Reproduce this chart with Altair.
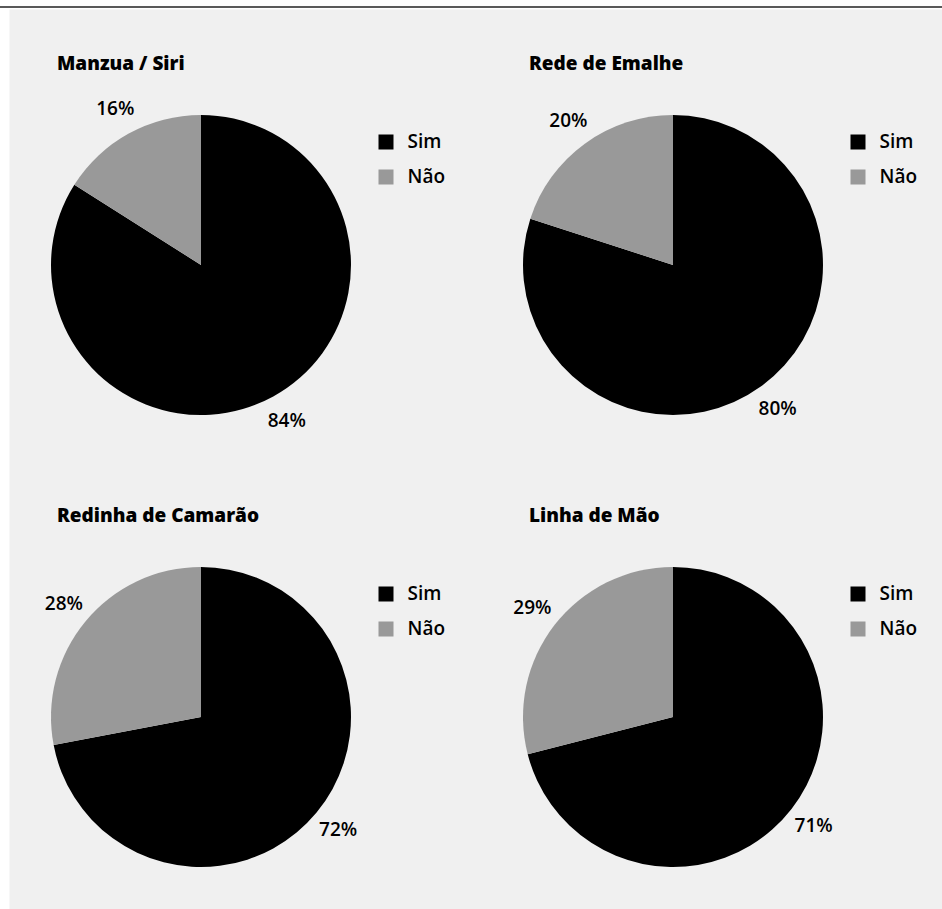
import altair as alt
import pandas as pd

titles = ["Manzua / Siri", "Rede de Emalhe", "Redinha de Camarão", "Linha de Mão"]
sim_pct = [84, 80, 72, 71]
nao_pct = [16, 20, 28, 29]
categories = ["Sim", "Não"]
colors = ["#000000", "#999999"]

rows = []
for i, t in enumerate(titles):
    for j, (c, v) in enumerate(zip(categories, [sim_pct[i], nao_pct[i]])):
        rows.append(dict(pie=i, title=t, cat=c, ord=j, value=v, label=f"{v}%"))
df = pd.DataFrame(rows)
title_df = pd.DataFrame({"pie": list(range(len(titles))), "title": titles})

# layout: pie centres inside the gray panel
centers = [(192, 256), (664, 256), (192, 708), (664, 708)]
FONT = "Open Sans"

layers = []
line = alt.Chart(pd.DataFrame({"a": [0]})).mark_rule(color="#222222", strokeWidth=1.5).encode(
    x=alt.value(-9), x2=alt.value(933), y=alt.value(-2)
)
layers.append(line)

for i, (cx, cy) in enumerate(centers):
    base = alt.Chart(df).transform_filter(alt.datum.pie == i).encode(
        theta=alt.Theta("value:Q", stack=True, scale=alt.Scale(domain=[0, 100])),
        order=alt.Order("ord:Q"),
        x=alt.value(cx),
        y=alt.value(cy),
    )
    arc = base.mark_arc(outerRadius=150).encode(
        color=alt.Color(
            "cat:N",
            scale=alt.Scale(domain=categories, range=colors),
            legend=alt.Legend(
                orient="none",
                legendX=cx + 175.5,
                legendY=cy - 132.5,
                title=None,
                symbolType="square",
                symbolSize=225,
                symbolStrokeWidth=0,
                labelFont=FONT,
                labelFontSize=19,
                labelFontWeight=600,
                labelColor="black",
                labelOffset=12,
                rowPadding=15,
                padding=0,
            ),
        )
    )
    txt = base.mark_text(radius=178, font=FONT, fontSize=19, fontWeight=600, color="black").encode(
        text="label:N", detail="cat:N"
    )
    ttl = (
        alt.Chart(title_df)
        .transform_filter(alt.datum.pie == i)
        .mark_text(align="left", baseline="middle", font=FONT, fontSize=19, fontWeight=800, color="black")
        .encode(text="title:N", x=alt.value(cx - 144), y=alt.value(cy - 201))
    )
    layers += [arc, txt, ttl]

chart = (
    alt.layer(*layers)
    .resolve_scale(color="independent")
    .properties(
        width=933,
        height=900,
        padding={"left": 9, "top": 9, "right": 0, "bottom": 0},
        autosize=alt.AutoSizeParams(type="none"),
        background="white",
    )
    .configure_view(fill="#f0f0f0", stroke="transparent")
)

chart.save("out.html", embed_options={"renderer": "svg", "actions": False})
